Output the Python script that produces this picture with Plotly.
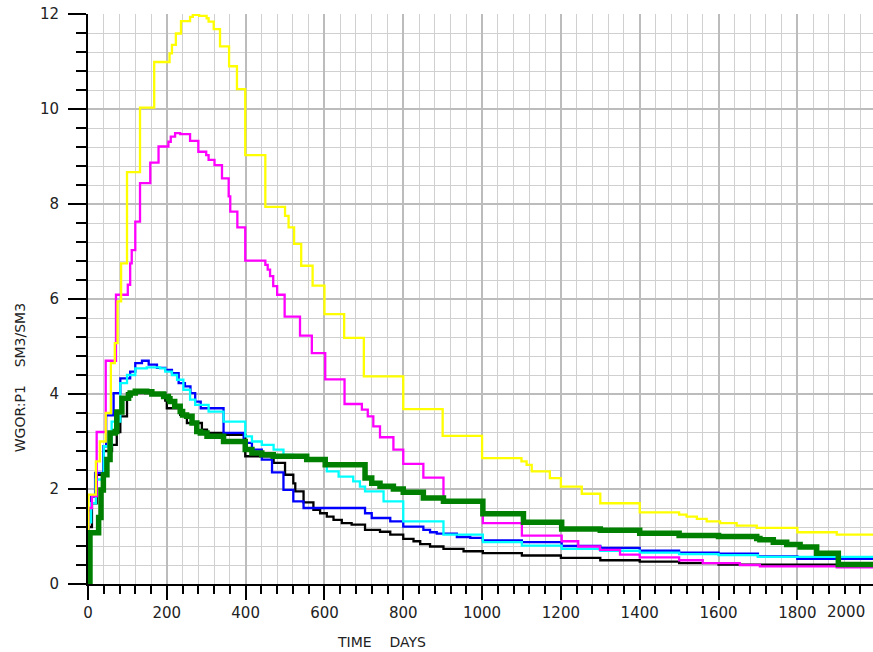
import plotly.graph_objects as go

# ---- data: step series, (start day, value) pairs ----
yellow_t = [0, 1, 20, 30, 45, 58, 68, 75, 84, 99, 132, 168, 207, 213, 223, 236, 259, 266, 282, 301,
            306, 319, 335, 358, 378, 399, 450, 500, 509, 523, 541, 570, 600, 650, 700, 800, 900, 1000,
            1100, 1113, 1126, 1172, 1200, 1253, 1300, 1400, 1500, 1519, 1545, 1570, 1604, 1646, 1697,
            1800, 1900]
yellow_v = [0, 1.88, 2.58, 3.0, 3.6, 4.65, 5.07, 5.95, 6.75, 8.67, 10.03, 10.99, 11.17, 11.35, 11.59,
            11.85, 11.94, 11.98, 11.96, 11.91, 11.84, 11.68, 11.32, 10.9, 10.42, 9.03, 7.94, 7.75, 7.51,
            7.16, 6.70, 6.28, 5.68, 5.18, 4.37, 3.68, 3.12, 2.65, 2.58, 2.51, 2.37, 2.23, 2.05, 1.90,
            1.70, 1.51, 1.46, 1.42, 1.37, 1.32, 1.28, 1.23, 1.18, 1.09, 1.04]

magenta_t = [0, 1, 10, 22, 45, 71, 101, 107, 111, 120, 132, 158, 179, 204, 210, 221, 234, 259, 280, 300,
             306, 321, 340, 357, 361, 379, 399, 450, 456, 462, 470, 480, 499, 538, 568, 602, 651, 695,
             710, 724, 741, 775, 800, 851, 902, 1002, 1101, 1202, 1244, 1299, 1350, 1400, 1500, 1560,
             1654, 1705, 1900]
magenta_v = [0, 1.6, 1.85, 3.2, 4.70, 6.09, 6.30, 6.75, 7.03, 7.63, 8.44, 8.87, 9.21, 9.31, 9.42, 9.49,
             9.47, 9.33, 9.10, 9.03, 8.93, 8.82, 8.54, 8.16, 7.84, 7.51, 6.81, 6.72, 6.62, 6.48, 6.27,
             6.09, 5.63, 5.23, 4.86, 4.31, 3.79, 3.67, 3.53, 3.32, 3.09, 2.83, 2.53, 2.24, 1.76, 1.28,
             1.02, 0.90, 0.79, 0.72, 0.62, 0.56, 0.50, 0.44, 0.40, 0.37, 0.35]

blue_t = [0, 1, 8, 18, 39, 46, 65, 82, 107, 120, 137, 154, 175, 196, 213, 230, 246, 260, 272, 286,
          344, 395, 416, 441, 467, 496, 521, 547, 703, 720, 767, 800, 851, 868, 885, 936, 970, 1002,
          1101, 1202, 1300, 1400, 1500, 1600, 1700, 1800]
blue_v = [0, 1.55, 1.84, 2.34, 2.9, 3.55, 4.02, 4.33, 4.47, 4.65, 4.70, 4.62, 4.55, 4.51, 4.44, 4.23,
          4.16, 4.02, 3.84, 3.70, 3.18, 2.97, 2.83, 2.62, 2.35, 1.98, 1.74, 1.60, 1.49, 1.39, 1.32,
          1.21, 1.14, 1.09, 1.06, 0.99, 0.97, 0.92, 0.88, 0.80, 0.76, 0.70, 0.66, 0.64, 0.58, 0.53]

cyan_t = [0, 1, 8, 20, 40, 60, 82, 99, 120, 149, 183, 196, 213, 226, 242, 259, 272, 306, 344, 399,
          416, 441, 471, 496, 521, 555, 606, 636, 673, 690, 703, 750, 800, 902, 1002, 1101, 1202,
          1300, 1400, 1500, 1600, 1700]
cyan_v = [0, 1.3, 1.7, 2.2, 2.9, 3.42, 4.23, 4.40, 4.54, 4.56, 4.54, 4.47, 4.40, 4.30, 4.09, 3.88,
          3.77, 3.63, 3.42, 3.11, 3.0, 2.93, 2.83, 2.72, 2.67, 2.62, 2.37, 2.26, 2.16, 2.05, 1.95,
          1.74, 1.32, 1.04, 0.88, 0.81, 0.74, 0.70, 0.66, 0.63, 0.61, 0.57]

black_t = [0, 1, 10, 22, 40, 61, 73, 82, 99, 196, 200, 234, 251, 289, 302, 344, 399, 471, 500, 521,
           526, 547, 572, 589, 606, 623, 644, 669, 703, 741, 767, 800, 826, 843, 868, 902, 953, 1002,
           1101, 1200, 1300, 1400, 1500, 1600, 1900]
black_v = [0, 1.2, 1.7, 2.3, 2.8, 2.93, 3.2, 3.53, 4.02, 3.86, 3.70, 3.56, 3.39, 3.25, 3.18, 3.14,
           2.69, 2.55, 2.30, 2.12, 1.95, 1.72, 1.56, 1.49, 1.42, 1.35, 1.28, 1.25, 1.14, 1.10, 1.04,
           0.95, 0.90, 0.84, 0.79, 0.74, 0.69, 0.65, 0.60, 0.55, 0.50, 0.47, 0.44, 0.41, 0.38]

green_t = [0, 5, 27, 33, 39, 48, 56, 69, 73, 86, 103, 107, 120, 149, 162, 192, 204, 208, 220, 234,
           240, 250, 264, 276, 285, 302, 344, 399, 416, 441, 470, 555, 602, 703, 720, 741, 775, 800,
           851, 902, 1002, 1105, 1202, 1300, 1400, 1500, 1600, 1697, 1705, 1739, 1773, 1807, 1849, 1904]
green_v = [0, 1.08, 1.4, 1.98, 2.3, 2.62, 3.18, 3.21, 3.62, 3.91, 3.98, 4.02, 4.06, 4.05, 4.0, 3.95,
           3.90, 3.84, 3.74, 3.63, 3.56, 3.53, 3.39, 3.21, 3.18, 3.11, 3.0, 2.83, 2.76, 2.72, 2.69,
           2.62, 2.51, 2.23, 2.12, 2.06, 2.0, 1.93, 1.81, 1.74, 1.48, 1.30, 1.16, 1.13, 1.07, 1.02,
           1.0, 0.96, 0.93, 0.88, 0.83, 0.78, 0.65, 0.41]

x_ticks = [0, 200, 400, 600, 800, 1000, 1200, 1400, 1600, 1800]
y_ticks = [0, 2, 4, 6, 8, 10, 12]
END_DAY = 2050

series = [
    (black_t, black_v, "#000000", 2.3),
    (blue_t, blue_v, "#0000ff", 2.3),
    (cyan_t, cyan_v, "#00ffff", 2.3),
    (magenta_t, magenta_v, "#ff00ff", 2.3),
    (yellow_t, yellow_v, "#ffff00", 2.3),
    (green_t, green_v, "#008000", 5.5),
]

fig = go.Figure()
for t, v, col, w in series:
    fig.add_trace(go.Scatter(
        x=list(t) + [END_DAY], y=list(v) + [v[-1]],
        mode="lines", line=dict(color=col, width=w, shape="hv"),
        showlegend=False, hoverinfo="skip"))

tick_font = dict(family="DejaVu Sans", size=15, color="#222222")
fig.update_layout(
    width=873, height=652,
    margin=dict(l=88, r=0, t=14, b=68),
    paper_bgcolor="white", plot_bgcolor="white",
    showlegend=False,
    xaxis=dict(
        range=[0, 1992], tickmode="array", tickvals=x_ticks, ticktext=[str(v) for v in x_ticks],
        ticks="outside", ticklen=14, tickwidth=2, tickcolor="black",
        showline=True, linecolor="black", linewidth=2,
        showgrid=True, gridcolor="#bcbcbc", gridwidth=2, zeroline=False,
        tickfont=tick_font, automargin=False,
        minor=dict(tick0=0, dtick=40, ticks="outside", ticklen=8, tickwidth=1.5, tickcolor="black",
                   showgrid=True, gridcolor="#d0d0d0", gridwidth=1.3),
    ),
    yaxis=dict(
        range=[0, 12], tickmode="array", tickvals=y_ticks, ticktext=[str(v) for v in y_ticks],
        ticks="outside", ticklen=18, tickwidth=2, tickcolor="black",
        showline=True, linecolor="black", linewidth=2,
        showgrid=True, gridcolor="#bcbcbc", gridwidth=2, zeroline=False,
        tickfont=tick_font, automargin=False, ticklabelstandoff=6,
        minor=dict(tick0=0, dtick=0.4, ticks="outside", ticklen=10, tickwidth=1.5, tickcolor="black",
                   showgrid=True, gridcolor="#d0d0d0", gridwidth=1.3),
    ),
    annotations=[
        dict(text="TIME    DAYS", xref="paper", yref="paper", x=0.3745, y=0, yshift=-58,
             xanchor="center", yanchor="middle", showarrow=False,
             font=dict(family="DejaVu Sans", size=14, color="#222222")),
        dict(text="WGOR:P1    SM3/SM3", xref="paper", yref="paper", x=0, xshift=-68, y=0.361,
             xanchor="center", yanchor="middle", textangle=-90, showarrow=False,
             font=dict(family="DejaVu Sans", size=14, color="#222222")),
        dict(text="2000", xref="paper", yref="paper", x=1, xshift=-6, y=0, yshift=-17,
             xanchor="right", yanchor="top", showarrow=False, font=tick_font),
    ],
)

fig.write_html("out.html")
